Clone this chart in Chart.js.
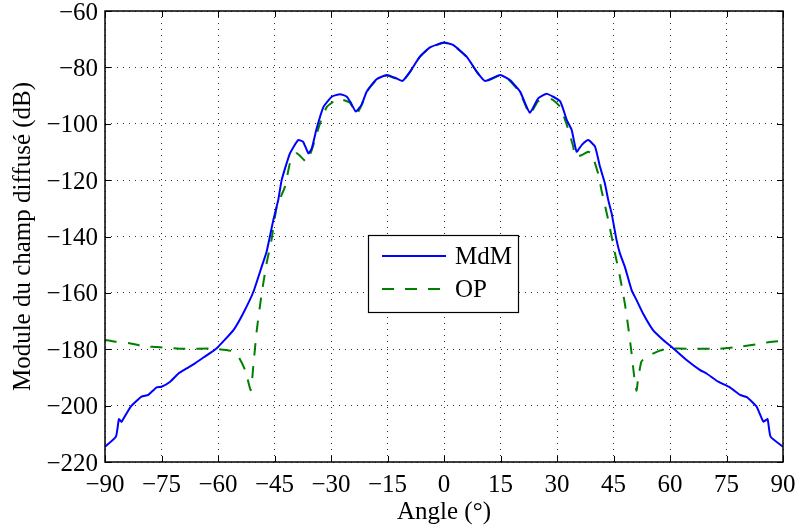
<!DOCTYPE html>
<html>
<head>
<meta charset="utf-8">
<script src="https://cdn.jsdelivr.net/npm/chart.js@4.4.0/dist/chart.umd.min.js"></script>
<style>
  html, body { margin: 0; padding: 0; background: #ffffff; }
  #wrap { width: 798px; height: 529px; position: relative; }
</style>
</head>
<body>
<div id="wrap"><canvas id="c" width="798" height="529"></canvas></div>
<script>
// ---- data ----
const xTicks = [-90, -75, -60, -45, -30, -15, 0, 15, 30, 45, 60, 75, 90];
const yTicks = [-220, -200, -180, -160, -140, -120, -100, -80, -60];
const seriesNames = ["MdM", "OP"];
const xTitle = "Angle (°)";
const yTitle = "Module du champ diffusé (dB)";

const mdmAngle = [-90, -87.1, -86.3, -85.6, -83.2, -80.3, -78.5, -76.3, -75, -72.7, -70.5, -68.3, -66.1, -63.5, -60.4,
  -55.9, -53.3, -50.6, -48.4, -47.1, -45.3, -44.0, -43.1, -40.9, -38.7, -37.4, -36.0, -35.1, -33.8, -32.0, -29.8,
  -27.6, -25.8, -24.8, -23.4, -21.9, -20.5, -17.9, -15.2, -13.0, -11.0, -9.0, -6.4, -3.7, 0, 2.5, 6.0, 8.7, 10.9,
  14.9, 17.5, 20.2, 22.8, 25.0, 27.3, 30.8, 32.6, 33.9, 35.2, 36.6, 38.3, 40.1, 41.4, 42.7, 43.6, 44.5, 45.8, 46.7,
  48.0, 49.8, 51.1, 52.8, 55.5, 58.2, 60.9, 64.4, 68.0, 69.7, 72.8, 75.9, 78.6, 80.4, 83.0, 84.8, 85.9, 86.7, 90];
const mdmDb = [-214.6, -211.0, -204.8, -205.7, -200.4, -196.8, -196.2, -193.5, -193.3, -191.5, -188.6, -186.8, -185.0, -182.6, -179.7,
  -173.2, -167.2, -159.6, -150.7, -145.4, -134.1, -127.0, -120.0, -110.5, -105.8, -106.4, -110.5, -108.7, -101.6, -94.0, -90.4,
  -89.5, -90.4, -92.4, -95.7, -93.3, -88.6, -84.2, -82.7, -83.7, -84.8, -81.5, -76.2, -72.9, -71.2, -72.1, -76.2, -81.5, -84.8,
  -82.7, -84.5, -88.6, -96.1, -91.0, -89.4, -92.0, -98.7, -102.2, -109.9, -107.5, -105.8, -108.1, -115.2, -121.1, -127.0, -131.8, -141.2, -146.0,
  -150.7, -159.0, -162.5, -167.2, -173.2, -176.7, -179.7, -183.8, -187.4, -188.6, -191.5, -193.5, -196.2, -197.0, -200.4, -205.7, -204.8, -211.0, -214.6];

const opAngle = [-90, -87.3, -83.4, -79.8, -75.4, -69.2, -61.2, -56.8, -54.6, -52.8, -51.3, -50.6, -49.7, -48.4, -47.1,
  -45.8, -44.4, -42.2, -40.9, -39.1, -36.5, -35.1, -32.9, -31.1, -28.1, -25.0, -23.2, -21.9, -20.5, -17.9, -15.2,
  -13.0, -11.0, -9.0, -6.4, -3.7, 0, 2.5, 6.0, 8.7, 10.9, 14.9, 17.5, 20.2, 22.8, 25.0, 28.6, 30.8, 32.6, 34.3, 34.8,
  36.6, 38.3, 39.2, 40.9, 41.8, 43.6, 45.4, 46.7, 48.0, 48.9, 49.8, 50.4, 51.1, 51.5, 52.4, 53.8, 57.3, 59.1, 65.3,
  73.2, 78.6, 83.9, 86.5, 90];
const opDb = [-176.7, -177.3, -177.9, -178.9, -179.3, -179.8, -179.8, -180.5, -182.6, -187.4, -194.5, -185.6, -173.2, -160.2, -149.5,
  -141.2, -129.4, -122.3, -114.0, -110.5, -113.5, -109.3, -99.8, -94.0, -91.2, -92.5, -96.5, -93.5, -88.6, -84.4, -82.9,
  -83.9, -84.9, -81.6, -76.3, -73.0, -71.3, -72.2, -76.3, -81.6, -84.9, -82.9, -84.8, -89.0, -96.6, -92.0, -91.3, -94.0, -100.4, -108.1, -111.7,
  -111.1, -109.9, -110.5, -117.6, -123.5, -134.1, -146.0, -154.2, -163.7, -172.0, -181.4, -188.6, -194.7, -190.9, -184.4, -182.6, -180.5, -179.8, -179.8,
  -179.8, -179.1, -178.1, -177.4, -177.0];

const toPoints = (xs, ys) => xs.map((x, i) => ({ x: x, y: ys[i] }));
const fmt = v => (v < 0 ? "\u2212" + Math.abs(v) : String(v));
const FONT = "'Liberation Serif', 'Times New Roman', serif";

// box, inner ticks and legend drawn through the scales
const matlabAxes = {
  id: "matlabAxes",
  afterDatasetsDraw(chart) {
    const { ctx, chartArea: a, scales } = chart;
    ctx.save();
    ctx.strokeStyle = "#000";
    ctx.lineWidth = 1;
    const tl = 6;
    ctx.beginPath();
    scales.x.ticks.forEach(t => {
      const px = Math.round(scales.x.getPixelForValue(t.value)) + 0.5;
      ctx.moveTo(px, a.bottom); ctx.lineTo(px, a.bottom - tl);
      ctx.moveTo(px, a.top); ctx.lineTo(px, a.top + tl);
    });
    scales.y.ticks.forEach(t => {
      const py = Math.round(scales.y.getPixelForValue(t.value)) + 0.5;
      ctx.moveTo(a.left, py); ctx.lineTo(a.left + tl, py);
      ctx.moveTo(a.right, py); ctx.lineTo(a.right - tl, py);
    });
    ctx.stroke();
    ctx.lineWidth = 1.5;
    ctx.strokeRect(a.left, a.top, a.right - a.left, a.bottom - a.top);

    // legend
    const lx = 368, ly = 235, lw = 150, lh = 77;
    ctx.fillStyle = "#fff";
    ctx.fillRect(lx, ly, lw, lh);
    ctx.lineWidth = 1.2;
    ctx.strokeRect(lx + 0.5, ly + 0.5, lw, lh);
    chart.data.datasets.forEach((ds, i) => {
      const yy = ly + 21 + i * 33;
      ctx.save();
      ctx.strokeStyle = ds.borderColor;
      ctx.lineWidth = ds.borderWidth;
      ctx.setLineDash(ds.borderDash || []);
      ctx.beginPath();
      ctx.moveTo(382, yy); ctx.lineTo(446, yy);
      ctx.stroke();
      ctx.restore();
      ctx.fillStyle = "#000";
      ctx.font = "25px " + FONT;
      ctx.textBaseline = "middle";
      ctx.textAlign = "left";
      ctx.fillText(ds.label, 455, yy + 1);
    });
    ctx.restore();
  }
};

new Chart(document.getElementById("c"), {
  type: "line",
  data: {
    datasets: [
      { label: seriesNames[0], data: toPoints(mdmAngle, mdmDb), borderColor: "#0000ff", borderWidth: 2,
        pointRadius: 0, tension: 0.15, fill: false },
      { label: seriesNames[1], data: toPoints(opAngle, opDb), borderColor: "#008000", borderWidth: 2,
        borderDash: [12, 11], pointRadius: 0, tension: 0.15, fill: false }
    ]
  },
  options: {
    responsive: false,
    animation: false,
    devicePixelRatio: 1,
    layout: { padding: { left: 0, top: 11, right: 15, bottom: 0 } },
    plugins: { legend: { display: false }, tooltip: { enabled: false } },
    scales: {
      x: {
        type: "linear", min: -90, max: 90,
        afterBuildTicks: s => { s.ticks = xTicks.map(v => ({ value: v })); },
        afterFit: s => { s.height = 67; s.paddingLeft = 0; s.paddingRight = 0; },
        ticks: { callback: v => fmt(v), color: "#000", padding: 8, maxRotation: 0, autoSkip: false,
          font: { family: FONT, size: 25 } },
        grid: { color: "#333", lineWidth: 1, drawTicks: false },
        border: { display: false, dash: [1, 5] },
        title: { display: true, text: xTitle, color: "#000", font: { family: FONT, size: 25 }, padding: { top: 0, bottom: 2 } }
      },
      y: {
        type: "linear", min: -220, max: -60,
        afterBuildTicks: s => { s.ticks = yTicks.map(v => ({ value: v })); },
        afterFit: s => { s.width = 105; s.paddingTop = 0; s.paddingBottom = 0; },
        ticks: { callback: v => fmt(v), color: "#000", padding: 7, autoSkip: false, labelOffset: 2,
          font: { family: FONT, size: 25 } },
        grid: { color: "#333", lineWidth: 1, drawTicks: false },
        border: { display: false, dash: [1, 5] },
        title: { display: true, text: yTitle, color: "#000", font: { family: FONT, size: 25 }, padding: { top: 8, bottom: 0 } }
      }
    }
  },
  plugins: [matlabAxes]
});
</script>
</body>
</html>
